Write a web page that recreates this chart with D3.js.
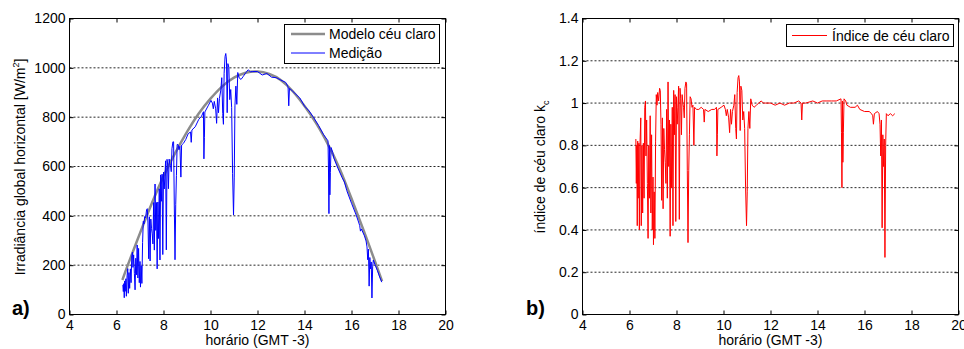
<!DOCTYPE html>
<html>
<head>
<meta charset="utf-8">
<script src="https://cdn.jsdelivr.net/npm/d3@7"></script>
<style>
  body { margin: 0; background: #fff; }
  svg { display: block; font-family: "Liberation Sans", Arial, sans-serif; }
  .axis text { font-size: 14px; fill: #000; }
  .axis line { stroke: #000; }
  .grid line { stroke: #000; stroke-width: 1; stroke-dasharray: 2,2; opacity: 0.85; }
</style>
</head>
<body>
<svg width="964" height="349"></svg>
<script>
// tick values
const horaTicks = [4, 6, 8, 10, 12, 14, 16, 18, 20];
const irradTicks = [0, 200, 400, 600, 800, 1000, 1200];
const kcTicks = [0, 0.2, 0.4, 0.6, 0.8, 1, 1.2, 1.4];

// clear sky model [hour, W/m2]
const modelo = [
  [6.25, 140], [6.5, 205], [7.0, 330], [7.5, 450], [8.0, 560], [8.5, 655],
  [9.0, 740], [9.5, 815], [10.0, 875], [10.5, 925], [11.0, 960], [11.5, 980],
  [12.0, 985], [12.5, 975], [13.0, 950], [13.5, 905], [14.0, 845], [14.5, 775],
  [15.0, 690], [15.5, 590], [16.0, 470], [16.5, 345], [17.0, 215], [17.3, 135]
];

// measured irradiance [hour, W/m2]
const medicao = [
  [6.27, 120], [6.29, 93], [6.31, 125], [6.33, 68], [6.35, 136], [6.37, 94], [6.40, 145],
  [6.42, 74], [6.45, 157], [6.48, 186], [6.50, 86], [6.53, 170], [6.56, 106], [6.59, 185],
  [6.62, 129], [6.65, 238], [6.68, 253], [6.70, 191], [6.73, 242], [6.76, 167], [6.79, 100],
  [6.82, 228], [6.85, 161], [6.88, 282], [6.91, 148], [6.94, 268], [6.97, 129], [7.00, 215],
  [7.02, 111], [7.05, 198], [7.08, 126], [7.11, 292], [7.14, 378], [7.17, 367], [7.20, 397],
  [7.24, 392], [7.28, 425], [7.31, 429], [7.34, 371], [7.37, 226], [7.40, 396], [7.43, 217],
  [7.46, 387], [7.49, 349], [7.52, 327], [7.55, 286], [7.58, 454], [7.61, 261], [7.64, 529],
  [7.67, 341], [7.70, 454], [7.73, 185], [7.76, 456], [7.79, 308], [7.82, 510], [7.85, 221],
  [7.88, 566], [7.91, 459], [7.94, 569], [7.97, 243], [8.00, 577], [8.03, 509], [8.06, 560],
  [8.09, 623], [8.12, 262], [8.15, 629], [8.18, 606], [8.21, 510], [8.24, 630], [8.27, 611],
  [8.30, 605], [8.33, 579], [8.36, 672], [8.40, 700], [8.43, 700], [8.46, 440], [8.49, 222],
  [8.52, 447], [8.55, 564], [8.58, 689], [8.62, 689], [8.66, 668], [8.70, 682], [8.74, 557],
  [8.77, 687], [8.85, 694], [8.95, 710], [9.05, 733], [9.15, 740], [9.18, 698], [9.21, 748],
  [9.35, 761], [9.50, 791], [9.62, 804], [9.70, 822], [9.72, 631], [9.74, 717], [9.76, 821],
  [9.90, 846], [10.02, 868], [10.08, 857], [10.12, 834], [10.16, 864], [10.22, 834], [10.26, 775],
  [10.30, 878], [10.34, 818], [10.38, 876], [10.44, 910], [10.48, 960], [10.52, 815], [10.55, 771],
  [10.58, 978], [10.62, 1046], [10.65, 1058], [10.68, 1032], [10.71, 818], [10.74, 1017],
  [10.78, 1002], [10.82, 871], [10.86, 912], [10.90, 839], [10.94, 572], [10.98, 403],
  [11.01, 557], [11.04, 846], [11.08, 926], [11.12, 852], [11.16, 981], [11.22, 959],
  [11.30, 953], [11.40, 966], [11.50, 980], [11.60, 992], [11.70, 984], [11.80, 985],
  [12.00, 985], [12.20, 971], [12.40, 977], [12.60, 962], [12.80, 960], [13.00, 950],
  [13.20, 941], [13.30, 923], [13.33, 846], [13.36, 917], [13.50, 905], [13.80, 878],
  [14.00, 845], [14.20, 825], [14.40, 797], [14.60, 766], [14.80, 731], [15.00, 704],
  [15.02, 590], [15.04, 409], [15.06, 685], [15.08, 485], [15.10, 576], [15.13, 677],
  [15.20, 657], [15.25, 634], [15.40, 598], [15.60, 555], [15.70, 537], [15.80, 502],
  [16.00, 451], [16.20, 403], [16.30, 375], [16.35, 360], [16.38, 338], [16.42, 347],
  [16.55, 319], [16.62, 298], [16.66, 274], [16.69, 222], [16.72, 265], [16.75, 115],
  [16.78, 231], [16.81, 185], [16.84, 213], [16.87, 67], [16.90, 193], [16.93, 221],
  [17.00, 202], [17.10, 179], [17.20, 152], [17.29, 131]
];

// clear sky index [hour, kc]
const indice = [
  [6.27, 0.83], [6.29, 0.62], [6.31, 0.80], [6.33, 0.42], [6.35, 0.82], [6.37, 0.55], [6.40, 0.81],
  [6.42, 0.40], [6.45, 0.82], [6.48, 0.93], [6.50, 0.42], [6.53, 0.80], [6.56, 0.48], [6.59, 0.81],
  [6.62, 0.55], [6.65, 0.98], [6.68, 1.01], [6.70, 0.75], [6.73, 0.92], [6.76, 0.62], [6.79, 0.36],
  [6.82, 0.80], [6.85, 0.55], [6.88, 0.94], [6.91, 0.48], [6.94, 0.85], [6.97, 0.40], [7.00, 0.65],
  [7.02, 0.33], [7.05, 0.58], [7.08, 0.36], [7.11, 0.82], [7.14, 1.04], [7.17, 0.99], [7.20, 1.05],
  [7.24, 1.01], [7.28, 1.07], [7.31, 1.06], [7.34, 0.90], [7.37, 0.54], [7.40, 0.93], [7.43, 0.50],
  [7.46, 0.88], [7.49, 0.78], [7.52, 0.72], [7.55, 0.62], [7.58, 0.97], [7.61, 0.55], [7.64, 1.10],
  [7.67, 0.70], [7.70, 0.92], [7.73, 0.37], [7.76, 0.90], [7.79, 0.60], [7.82, 0.98], [7.85, 0.42],
  [7.88, 1.06], [7.91, 0.85], [7.94, 1.04], [7.97, 0.44], [8.00, 1.03], [8.03, 0.90], [8.06, 0.98],
  [8.09, 1.08], [8.12, 0.45], [8.15, 1.07], [8.18, 1.02], [8.21, 0.85], [8.24, 1.04], [8.27, 1.00],
  [8.30, 0.98], [8.33, 0.93], [8.36, 1.07], [8.40, 1.10], [8.43, 1.09], [8.46, 0.68], [8.49, 0.34],
  [8.52, 0.68], [8.55, 0.85], [8.58, 1.03], [8.62, 1.02], [8.66, 0.98], [8.70, 0.99], [8.74, 0.80],
  [8.77, 0.98], [8.85, 0.97], [8.95, 0.97], [9.05, 0.98], [9.15, 0.97], [9.18, 0.91], [9.21, 0.97],
  [9.35, 0.96], [9.50, 0.97], [9.62, 0.97], [9.70, 0.98], [9.72, 0.75], [9.74, 0.85], [9.76, 0.97],
  [9.90, 0.98], [10.02, 0.99], [10.08, 0.97], [10.12, 0.94], [10.16, 0.97], [10.22, 0.93], [10.26, 0.86],
  [10.30, 0.97], [10.34, 0.90], [10.38, 0.96], [10.44, 0.99], [10.48, 1.04], [10.52, 0.88], [10.55, 0.83],
  [10.58, 1.05], [10.62, 1.12], [10.65, 1.13], [10.68, 1.10], [10.71, 0.87], [10.74, 1.08],
  [10.78, 1.06], [10.82, 0.92], [10.86, 0.96], [10.90, 0.88], [10.94, 0.60], [10.98, 0.42],
  [11.01, 0.58], [11.04, 0.88], [11.08, 0.96], [11.12, 0.88], [11.16, 1.02], [11.22, 0.99],
  [11.30, 0.98], [11.40, 0.99], [11.50, 1.00], [11.60, 1.01], [11.70, 1.00], [11.80, 1.00],
  [12.00, 1.00], [12.20, 0.99], [12.40, 1.00], [12.60, 0.99], [12.80, 1.00], [13.00, 1.00],
  [13.20, 1.01], [13.30, 1.00], [13.33, 0.92], [13.36, 1.00], [13.50, 1.00], [13.80, 1.01],
  [14.00, 1.00], [14.20, 1.01], [14.40, 1.01], [14.60, 1.01], [14.80, 1.01], [15.00, 1.02],
  [15.02, 0.86], [15.04, 0.60], [15.06, 1.01], [15.08, 0.72], [15.10, 0.86], [15.13, 1.02],
  [15.20, 1.01], [15.25, 0.99], [15.40, 0.98], [15.60, 0.98], [15.70, 0.99], [15.80, 0.97],
  [16.00, 0.96], [16.20, 0.96], [16.30, 0.95], [16.35, 0.94], [16.38, 0.90], [16.42, 0.95],
  [16.55, 0.96], [16.62, 0.95], [16.66, 0.90], [16.69, 0.75], [16.72, 0.92], [16.75, 0.41],
  [16.78, 0.85], [16.81, 0.70], [16.84, 0.83], [16.87, 0.27], [16.90, 0.80], [16.93, 0.95],
  [17.00, 0.94], [17.10, 0.95], [17.20, 0.94], [17.29, 0.95]
];

const svg = d3.select('svg');

// draws frame, ticks, grid and labels of one panel, returns scales
function buildPanel(box, yTicks, yMax) {
  const x = d3.scaleLinear().domain([4, 20]).range([box.left, box.right]);
  const y = d3.scaleLinear().domain([0, yMax]).range([box.bottom, box.top]);

  // dotted horizontal grid
  svg.append('g')
    .attr('class', 'grid')
    .selectAll('line')
    .data(yTicks.slice(1, -1))
    .enter()
    .append('line')
    .attr('x1', box.left)
    .attr('x2', box.right)
    .attr('y1', d => y(d))
    .attr('y2', d => y(d));

  svg.append('g')
    .attr('class', 'axis')
    .attr('transform', 'translate(0,' + box.bottom + ')')
    .call(d3.axisBottom(x).tickValues(horaTicks).tickSize(-4).tickPadding(6).tickFormat(d3.format('d')))
    .call(g => g.select('.domain').remove());
  svg.append('g')
    .attr('class', 'axis')
    .attr('transform', 'translate(0,' + box.top + ')')
    .call(d3.axisTop(x).tickValues(horaTicks).tickSize(-4).tickFormat(''))
    .call(g => g.select('.domain').remove());
  svg.append('g')
    .attr('class', 'axis')
    .attr('transform', 'translate(' + box.left + ',0)')
    .call(d3.axisLeft(y).tickValues(yTicks).tickSize(-4).tickPadding(4).tickFormat(d => d))
    .call(g => g.select('.domain').remove());
  svg.append('g')
    .attr('class', 'axis')
    .attr('transform', 'translate(' + box.right + ',0)')
    .call(d3.axisRight(y).tickValues(yTicks).tickSize(-4).tickFormat(''))
    .call(g => g.select('.domain').remove());

  svg.append('rect')
    .attr('x', box.left)
    .attr('y', box.top)
    .attr('width', box.right - box.left)
    .attr('height', box.bottom - box.top)
    .attr('fill', 'none')
    .attr('stroke', '#000')
    .attr('stroke-width', 1);

  svg.append('text')
    .attr('x', (box.left + box.right) / 2)
    .attr('y', 345)
    .attr('text-anchor', 'middle')
    .style('font-size', '14px')
    .text('horário (GMT -3)');

  return { x, y };
}

// ---- panel a)
const boxA = { left: 69.5, right: 445.5, top: 18.5, bottom: 314.5 };
const a = buildPanel(boxA, irradTicks, 1200);

const lineA = d3.line().x(d => a.x(d[0])).y(d => a.y(d[1]));
svg.append('path')
  .datum(modelo)
  .attr('d', lineA.curve(d3.curveNatural))
  .attr('fill', 'none')
  .attr('stroke', '#8c8c8c')
  .attr('stroke-width', 2.5);
svg.append('path')
  .datum(medicao)
  .attr('d', d3.line().x(d => a.x(d[0])).y(d => a.y(d[1])))
  .attr('fill', 'none')
  .attr('stroke', '#0000ff')
  .attr('stroke-width', 1);

const labelA = svg.append('text')
  .attr('transform', 'translate(25,167) rotate(-90)')
  .attr('text-anchor', 'middle')
  .style('font-size', '14px');
labelA.append('tspan').text('Irradiância global horizontal [W/m');
labelA.append('tspan').attr('dy', -6).style('font-size', '9px').text('2');
labelA.append('tspan').attr('dy', 6).text(']');

svg.append('text')
  .attr('x', 12)
  .attr('y', 315)
  .style('font-size', '20px')
  .style('font-weight', 'bold')
  .text('a)');

// legend a)
svg.append('rect')
  .attr('x', 284.5).attr('y', 24.5).attr('width', 155).attr('height', 39)
  .attr('fill', '#fff').attr('stroke', '#000');
svg.append('line')
  .attr('x1', 291).attr('x2', 325).attr('y1', 34).attr('y2', 34)
  .attr('stroke', '#8c8c8c').attr('stroke-width', 2.5);
svg.append('line')
  .attr('x1', 291).attr('x2', 325).attr('y1', 53).attr('y2', 53)
  .attr('stroke', '#0000ff').attr('stroke-width', 1);
svg.append('text').attr('x', 329).attr('y', 39).style('font-size', '14px').text('Modelo céu claro');
svg.append('text').attr('x', 329).attr('y', 58).style('font-size', '14px').text('Medição');

// ---- panel b)
const boxB = { left: 582.5, right: 958.5, top: 18.5, bottom: 314.5 };
const b = buildPanel(boxB, kcTicks, 1.4);

svg.append('path')
  .datum(indice)
  .attr('d', d3.line().x(d => b.x(d[0])).y(d => b.y(d[1])))
  .attr('fill', 'none')
  .attr('stroke', '#ff0000')
  .attr('stroke-width', 1);

const labelB = svg.append('text')
  .attr('transform', 'translate(545,167) rotate(-90)')
  .attr('text-anchor', 'middle')
  .style('font-size', '14px');
labelB.append('tspan').text('índice de céu claro k');
labelB.append('tspan').attr('dy', 4).style('font-size', '9px').text('c');

svg.append('text')
  .attr('x', 526)
  .attr('y', 315)
  .style('font-size', '20px')
  .style('font-weight', 'bold')
  .text('b)');

// legend b)
svg.append('rect')
  .attr('x', 786.5).attr('y', 24.5).attr('width', 167).attr('height', 22)
  .attr('fill', '#fff').attr('stroke', '#000');
svg.append('line')
  .attr('x1', 792).attr('x2', 827).attr('y1', 35.5).attr('y2', 35.5)
  .attr('stroke', '#ff0000').attr('stroke-width', 1);
svg.append('text').attr('x', 832).attr('y', 40.5).style('font-size', '14px').text('Índice de céu claro');
</script>
</body>
</html>
